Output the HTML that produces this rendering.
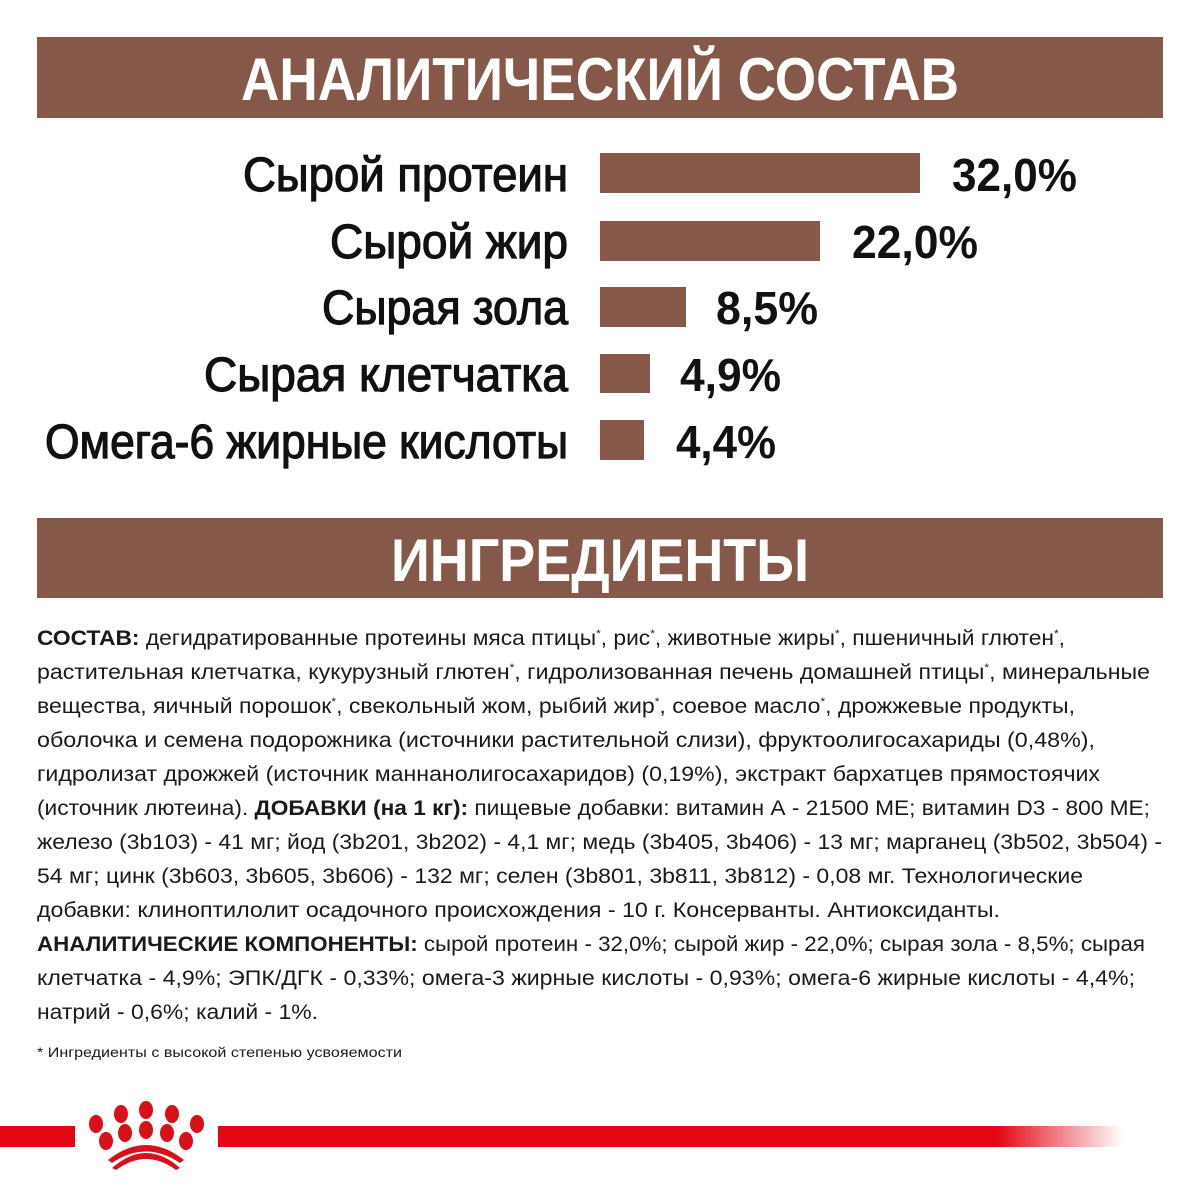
<!DOCTYPE html>
<html><head><meta charset="utf-8"><style>
html,body{margin:0;padding:0;background:#fff;width:1200px;height:1200px;overflow:hidden}
svg{display:block}
text{font-family:"Liberation Sans",sans-serif}
</style></head><body>
<svg width="1200" height="1200" viewBox="0 0 1200 1200" xmlns="http://www.w3.org/2000/svg">
<defs>
<linearGradient id="fade" x1="0" x2="1" y1="0" y2="0">
<stop offset="0" stop-color="#e30613"/><stop offset="0.86" stop-color="#e30613"/><stop offset="1" stop-color="#e30613" stop-opacity="0"/>
</linearGradient>
</defs>
<rect x="37" y="37" width="1126" height="81" fill="#865849"/>
<text x="600" y="100" text-anchor="middle" font-size="60" font-weight="bold" fill="#fff" textLength="718" lengthAdjust="spacingAndGlyphs">АНАЛИТИЧЕСКИЙ СОСТАВ</text>

<g font-size="48" fill="#111" stroke="#111" stroke-width="1.2" text-anchor="end">
<text x="568" y="191" textLength="325" lengthAdjust="spacingAndGlyphs">Сырой протеин</text>
<text x="568" y="258" textLength="238" lengthAdjust="spacingAndGlyphs">Сырой жир</text>
<text x="568" y="324" textLength="246" lengthAdjust="spacingAndGlyphs">Сырая зола</text>
<text x="568" y="391" textLength="364" lengthAdjust="spacingAndGlyphs">Сырая клетчатка</text>
<text x="568" y="458" textLength="523" lengthAdjust="spacingAndGlyphs">Омега-6 жирные кислоты</text>
</g>
<g fill="#86594b">
<rect x="600" y="153" width="320" height="40"/>
<rect x="600" y="221" width="220" height="40"/>
<rect x="600" y="287" width="86" height="40"/>
<rect x="600" y="354" width="50" height="39"/>
<rect x="600" y="420" width="44" height="40"/>
</g>
<g font-size="46" font-weight="bold" fill="#111">
<text x="952" y="191" textLength="125" lengthAdjust="spacingAndGlyphs">32,0%</text>
<text x="852" y="258" textLength="126" lengthAdjust="spacingAndGlyphs">22,0%</text>
<text x="716" y="324" textLength="102" lengthAdjust="spacingAndGlyphs">8,5%</text>
<text x="680" y="391" textLength="101" lengthAdjust="spacingAndGlyphs">4,9%</text>
<text x="676" y="458" textLength="100" lengthAdjust="spacingAndGlyphs">4,4%</text>
</g>

<rect x="37" y="518" width="1126" height="80" fill="#865849"/>
<text x="600" y="581" text-anchor="middle" font-size="60" font-weight="bold" fill="#fff" textLength="418" lengthAdjust="spacingAndGlyphs">ИНГРЕДИЕНТЫ</text>

<g font-size="21" fill="#1a1a1a">
<text x="37" y="645" textLength="1028" lengthAdjust="spacingAndGlyphs"><tspan font-weight="bold">СОСТАВ:</tspan> дегидратированные протеины мяса птицы<tspan font-size="11" dy="-8">*</tspan><tspan dy="8">, рис</tspan><tspan font-size="11" dy="-8">*</tspan><tspan dy="8">, животные жиры</tspan><tspan font-size="11" dy="-8">*</tspan><tspan dy="8">, пшеничный глютен</tspan><tspan font-size="11" dy="-8">*</tspan><tspan dy="8">,</tspan></text>
<text x="37" y="679" textLength="1113" lengthAdjust="spacingAndGlyphs">растительная клетчатка, кукурузный глютен<tspan font-size="11" dy="-8">*</tspan><tspan dy="8">, гидролизованная печень домашней птицы</tspan><tspan font-size="11" dy="-8">*</tspan><tspan dy="8">, минеральные</tspan></text>
<text x="37" y="713" textLength="1038" lengthAdjust="spacingAndGlyphs">вещества, яичный порошок<tspan font-size="11" dy="-8">*</tspan><tspan dy="8">, свекольный жом, рыбий жир</tspan><tspan font-size="11" dy="-8">*</tspan><tspan dy="8">, соевое масло</tspan><tspan font-size="11" dy="-8">*</tspan><tspan dy="8">, дрожжевые продукты,</tspan></text>
<text x="37" y="747" textLength="1058" lengthAdjust="spacingAndGlyphs">оболочка и семена подорожника (источники растительной слизи), фруктоолигосахариды (0,48%),</text>
<text x="37" y="781" textLength="1063" lengthAdjust="spacingAndGlyphs">гидролизат дрожжей (источник маннанолигосахаридов) (0,19%), экстракт бархатцев прямостоячих</text>
<text x="37" y="815" textLength="1113" lengthAdjust="spacingAndGlyphs">(источник лютеина). <tspan font-weight="bold">ДОБАВКИ (на 1 кг):</tspan> пищевые добавки: витамин А - 21500 МЕ; витамин D3 - 800 МЕ;</text>
<text x="37" y="849" textLength="1125" lengthAdjust="spacingAndGlyphs">железо (3b103) - 41 мг; йод (3b201, 3b202) - 4,1 мг; медь (3b405, 3b406) - 13 мг; марганец (3b502, 3b504) -</text>
<text x="37" y="883" textLength="1046" lengthAdjust="spacingAndGlyphs">54 мг; цинк (3b603, 3b605, 3b606) - 132 мг; селен (3b801, 3b811, 3b812) - 0,08 мг. Технологические</text>
<text x="37" y="917" textLength="963" lengthAdjust="spacingAndGlyphs">добавки: клиноптилолит осадочного происхождения - 10 г. Консерванты. Антиоксиданты.</text>
<text x="37" y="951" textLength="1108" lengthAdjust="spacingAndGlyphs"><tspan font-weight="bold">АНАЛИТИЧЕСКИЕ КОМПОНЕНТЫ:</tspan> сырой протеин - 32,0%; сырой жир - 22,0%; сырая зола - 8,5%; сырая</text>
<text x="37" y="985" textLength="1098" lengthAdjust="spacingAndGlyphs">клетчатка - 4,9%; ЭПК/ДГК - 0,33%; омега-3 жирные кислоты - 0,93%; омега-6 жирные кислоты - 4,4%;</text>
<text x="37" y="1019" textLength="281" lengthAdjust="spacingAndGlyphs">натрий - 0,6%; калий - 1%.</text>
</g>
<text x="37" y="1057" font-size="14" fill="#1a1a1a" textLength="365" lengthAdjust="spacingAndGlyphs">* Ингредиенты с высокой степенью усвояемости</text>

<rect x="0" y="1126" width="75" height="21" fill="#e30613"/>
<rect x="218" y="1126" width="905" height="21" fill="url(#fade)"/>
<g fill="#d9101a">
<ellipse cx="96" cy="1124" rx="7" ry="9"/>
<ellipse cx="121" cy="1114" rx="7" ry="9"/>
<ellipse cx="146" cy="1110" rx="7" ry="9"/>
<ellipse cx="172" cy="1114" rx="7" ry="9"/>
<ellipse cx="197" cy="1124" rx="7" ry="9"/>
<ellipse cx="106" cy="1141" rx="7" ry="9"/>
<ellipse cx="125" cy="1133" rx="7" ry="9"/>
<ellipse cx="146" cy="1130" rx="7" ry="9"/>
<ellipse cx="167" cy="1133" rx="7" ry="9"/>
<ellipse cx="186" cy="1141" rx="7" ry="9"/>
<path d="M112 1168 Q146 1138 180 1168 L176 1170 Q146 1148 116 1170 Z"/>
<path d="M108 1160 Q146 1130 184 1160 L180 1163 Q146 1140 112 1163 Z"/>
</g>
</svg>
</body></html>
